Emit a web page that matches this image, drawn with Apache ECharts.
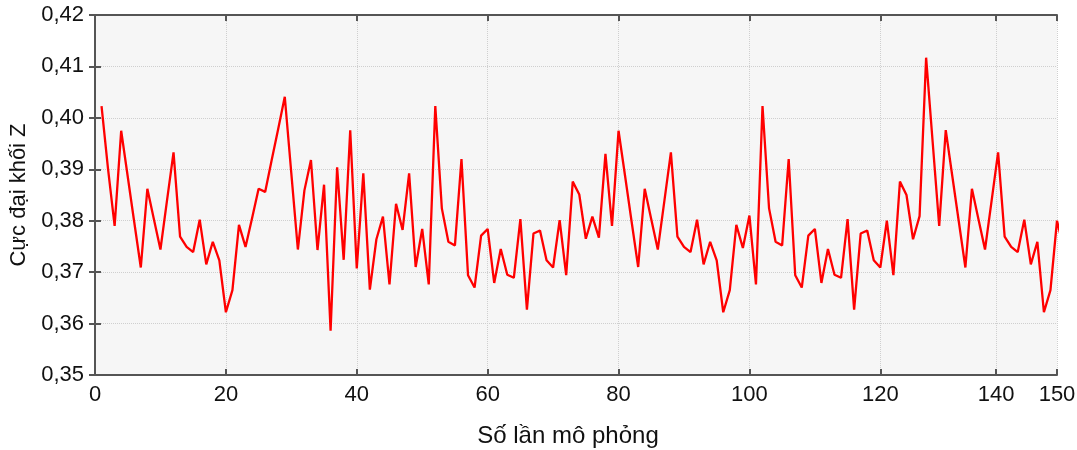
<!DOCTYPE html>
<html>
<head>
<meta charset="utf-8">
<script src="https://cdn.jsdelivr.net/npm/echarts@6.0.0/dist/echarts.min.js"></script>
<style>
  html, body { margin: 0; padding: 0; background: #ffffff; }
  #main { width: 1077px; height: 450px; }
</style>
</head>
<body>
<div id="main"></div>
<script>
// gia tri doc tu hinh, lan mo phong 1..148
var cucDaiZ = [
  0.4023, 0.3900, 0.3790, 0.3975, 0.3886, 0.3797, 0.3709, 0.3862, 0.3803, 0.3744,
  0.3839, 0.3933, 0.3769, 0.3749, 0.3739, 0.3802, 0.3715, 0.3759, 0.3723, 0.3622,
  0.3665, 0.3792, 0.3749, 0.3805, 0.3862, 0.3856, 0.3918, 0.3979, 0.4041, 0.3892,
  0.3744, 0.3859, 0.3918, 0.3743, 0.3870, 0.3586, 0.3904, 0.3724, 0.3976, 0.3707,
  0.3892, 0.3666, 0.3764, 0.3808, 0.3676, 0.3833, 0.3782, 0.3892, 0.3710, 0.3784,
  0.3676, 0.4023, 0.3824, 0.3759, 0.3752, 0.3920, 0.3694, 0.3670, 0.3771, 0.3784,
  0.3679, 0.3745, 0.3695, 0.3689, 0.3803, 0.3627, 0.3775, 0.3781, 0.3723, 0.3709,
  0.3801, 0.3694, 0.3876, 0.3851, 0.3765, 0.3808, 0.3767, 0.3930, 0.3790, 0.3975,
  0.3887, 0.3798, 0.3710, 0.3862, 0.3803, 0.3744, 0.3838, 0.3933, 0.3769, 0.3749,
  0.3739, 0.3802, 0.3715, 0.3759, 0.3723, 0.3622, 0.3665, 0.3792, 0.3747, 0.3810,
  0.3676, 0.4023, 0.3824, 0.3759, 0.3752, 0.3920, 0.3694, 0.3670, 0.3771, 0.3784,
  0.3679, 0.3745, 0.3695, 0.3689, 0.3803, 0.3627, 0.3775, 0.3781, 0.3723, 0.3709,
  0.3800, 0.3694, 0.3876, 0.3850, 0.3764, 0.3809, 0.4117, 0.3953, 0.3790, 0.3976,
  0.3887, 0.3798, 0.3709, 0.3862, 0.3803, 0.3744, 0.3838, 0.3933, 0.3769, 0.3749,
  0.3739, 0.3802, 0.3715, 0.3759, 0.3622, 0.3665, 0.3800, 0.3747
];
var lanMoPhong = cucDaiZ.map(function (v, i) { return i + 1; });

// vach truc x trong hinh goc (140 va 150 bi nen lai o cuoi)
var xTickValues = [0, 20, 40, 60, 80, 100, 120, 137.7, 147];
var xTickLabels = ['0', '20', '40', '60', '80', '100', '120', '140', '150'];
var yMin = 0.35, yMax = 0.42, yStep = 0.01;

var frameColor = '#555555';
var textStyle = { color: '#111111', fontFamily: 'Liberation Sans, Arial, sans-serif', fontSize: 22 };

function xLabel(v) {
  var i = xTickValues.indexOf(v);
  return i >= 0 ? xTickLabels[i] : '';
}

function yLabel(v) {
  return v.toFixed(2).replace('.', ',');
}

var chart = echarts.init(document.getElementById('main'), null, { renderer: 'canvas' });

var option = {
  backgroundColor: '#ffffff',
  animation: false,
  grid: {
    left: 95, right: 20, top: 15, bottom: 75,
    outerBoundsMode: 'none',
    show: true,
    backgroundColor: '#f6f6f6',
    borderWidth: 0
  },
  xAxis: [{
    type: 'value',
    position: 'bottom',
    min: 0,
    max: 147,
    name: 'Số lần mô phỏng',
    nameLocation: 'middle',
    nameGap: 49,
    nameTextStyle: { color: '#111111', fontFamily: 'Liberation Sans, Arial, sans-serif', fontSize: 24, padding: [0, 16, 0, 0] },
    axisLine: { show: true, lineStyle: { color: frameColor, width: 2 } },
    axisTick: { show: true, inside: true, length: 6, customValues: xTickValues, lineStyle: { color: frameColor, width: 2 } },
    axisLabel: Object.assign({ margin: 9, customValues: xTickValues, formatter: xLabel }, textStyle),
    splitLine: { show: true, lineStyle: { color: '#cfcfcf', type: 'dotted', width: 1 } }
  }, {
    type: 'value',
    position: 'top',
    min: 0,
    max: 147,
    axisLine: { show: true, lineStyle: { color: frameColor, width: 2 } },
    axisTick: { show: true, inside: true, length: 6, customValues: xTickValues, lineStyle: { color: frameColor, width: 2 } },
    axisLabel: { show: false },
    splitLine: { show: false }
  }],
  yAxis: [{
    type: 'value',
    position: 'left',
    min: yMin,
    max: yMax,
    interval: yStep,
    name: 'Cực đại khối Z',
    nameLocation: 'middle',
    nameGap: 61,
    nameTextStyle: { color: '#111111', fontFamily: 'Liberation Sans, Arial, sans-serif', fontSize: 22 },
    axisLine: { show: true, lineStyle: { color: frameColor, width: 2 } },
    axisTick: { show: true, inside: true, length: 6, lineStyle: { color: frameColor, width: 2 } },
    axisLabel: Object.assign({ margin: 11, formatter: yLabel }, textStyle),
    splitLine: { show: true, lineStyle: { color: '#cfcfcf', type: 'dotted', width: 1 } }
  }, {
    type: 'value',
    position: 'right',
    min: yMin,
    max: yMax,
    interval: yStep,
    axisLine: { show: true, lineStyle: { color: frameColor, width: 2 } },
    axisTick: { show: true, inside: true, length: 6, lineStyle: { color: frameColor, width: 2 } },
    axisLabel: { show: false },
    splitLine: { show: false }
  }],
  series: [{
    type: 'line',
    xAxisIndex: 0,
    yAxisIndex: 0,
    data: lanMoPhong.map(function (x, i) { return [x, cucDaiZ[i]]; }),
    showSymbol: false,
    clip: true,
    lineStyle: { color: '#ff0000', width: 2.3 },
    itemStyle: { color: '#ff0000' }
  }]
};

chart.setOption(option);
</script>
</body>
</html>
